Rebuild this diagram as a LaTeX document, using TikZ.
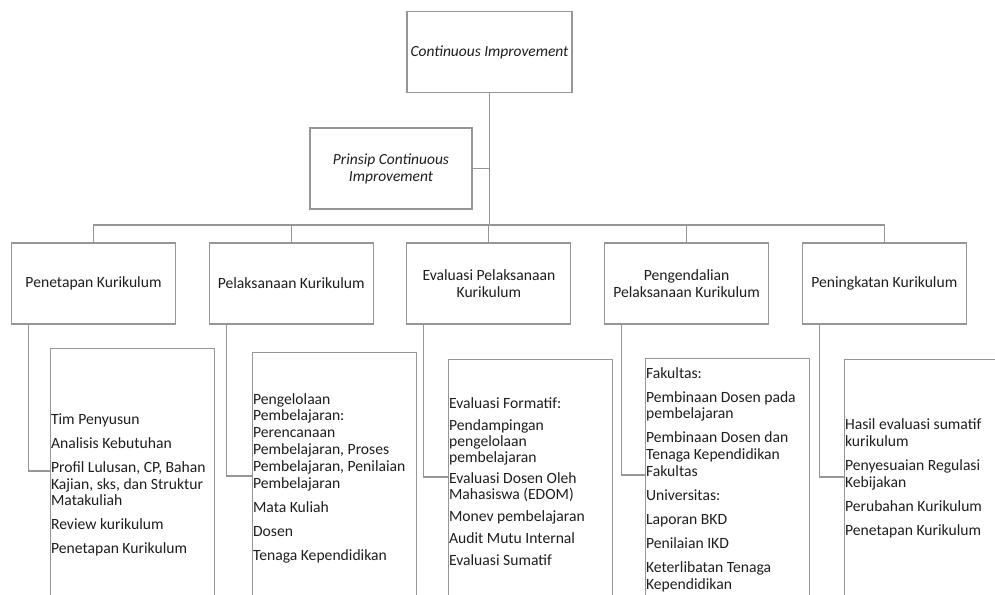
\documentclass[tikz,border=0pt]{standalone}
\usepackage{fontspec}
\setmainfont{Carlito}
\usetikzlibrary{calc}
\definecolor{boxline}{RGB}{150,150,150}
\definecolor{boxtext}{RGB}{30,30,30}

\begin{document}
\begin{tikzpicture}[x=0.02cm, y=-0.02cm,
    box/.style={draw=boxline, line width=0.6pt, text=boxtext, align=center, minimum width=3.28cm, minimum height=1.62cm, inner sep=1pt, font=\fontsize{8.9}{9.7}\selectfont},
    detail/.style={draw=boxline, line width=0.6pt, text=boxtext, align=flush left, anchor=north west, text width=3.26cm, inner xsep=0.3pt, inner ysep=0pt, font=\fontsize{8.9}{9.55}\selectfont},
    conn/.style={draw=boxline, line width=0.6pt}]
        % picture size 995 x 595, boxes below are cut off
        \useasboundingbox (0,0) rectangle (995,595);
        \clip (0,0) rectangle (995,595);
        % top of the chart
        \node[box, minimum width=3.3cm, font=\fontsize{8.8}{9.7}\selectfont\itshape] (top) at (489.5,52) {Continuous Improvement};
        \node[box, minimum width=3.24cm, font=\fontsize{8.8}{9.7}\selectfont\itshape] (prinsip) at (391,168.5) {Prinsip Continuous\\ Improvement};
        \coordinate (bus) at (489.5,225);
        % five steps in one row
        \foreach \i/\name in {1/{Penetapan Kurikulum}, 2/{Pelaksanaan Kurikulum}, 3/{Evaluasi Pelaksanaan\\ Kurikulum}, 4/{Pengendalian\\ Pelaksanaan Kurikulum}, 5/{Peningkatan Kurikulum}}
        \node[box] (h\i) at ({93.5+197.7*(\i-1)},283.5) {\name};
        % details of each step
        \node[detail, minimum height=273*0.02cm] (d1) at (50,348) {Tim Penyusun\\[4.1pt] Analisis Kebutuhan\\[4.1pt] Profil Lulusan, CP, Bahan\\ Kajian, sks, dan Struktur\\ Matakuliah\\[4.1pt] Review kurikulum\\[4.1pt] Penetapan Kurikulum};
        \node[detail, minimum height=251*0.02cm] (d2) at (252,352) {Pengelolaan\\ Pembelajaran:\\ Perencanaan\\ Pembelajaran, Proses\\ Pembelajaran, Penilaian\\ Pembelajaran\\[4.1pt] Mata Kuliah\\[4.1pt] Dosen\\[4.1pt] Tenaga Kependidikan};
        \node[detail, minimum height=244*0.02cm, font=\fontsize{8.9}{9.0}\selectfont] (d3) at (448,359) {Evaluasi Formatif:\\[3.4pt] Pendampingan\\ pengelolaan\\ pembelajaran\\[3.4pt] Evaluasi Dosen Oleh\\ Mahasiswa (EDOM)\\[3.4pt] Monev pembelajaran\\[3.4pt] Audit Mutu Internal\\[3.4pt] Evaluasi Sumatif};
        \node[detail, minimum height=242*0.02cm] (d4) at (645,358) {Fakultas:\\[4.1pt] Pembinaan Dosen pada\\ pembelajaran\\[4.1pt] Pembinaan Dosen dan\\ Tenaga Kependidikan\\ Fakultas\\[4.1pt] Universitas:\\[4.1pt] Laporan BKD\\[4.1pt] Penilaian IKD\\[4.1pt] Keterlibatan Tenaga\\ Kependidikan};
        \node[detail, text width=3.9cm, minimum height=238*0.02cm] (d5) at (844,359) {Hasil evaluasi sumatif\\ kurikulum\\[4.1pt] Penyesuaian Regulasi\\ Kebijakan\\[4.1pt] Perubahan Kurikulum\\[4.1pt] Penetapan Kurikulum};
        % connectors
        \draw[conn] (top) -- (bus);
        \draw[conn] (prinsip) -- (prinsip -| top);
        \foreach \i in {1,...,5}
        \draw[conn] (bus) -| (h\i);
        % step to its details, entering at the left side
        \foreach \i/\cy in {1/123, 2/124, 3/118, 4/117, 5/118}
        \draw[conn] ($(h\i.south)+(-65,0)$) |- ($(d\i.north west)+(0,\cy)$);
    \end{tikzpicture}
\end{document}
